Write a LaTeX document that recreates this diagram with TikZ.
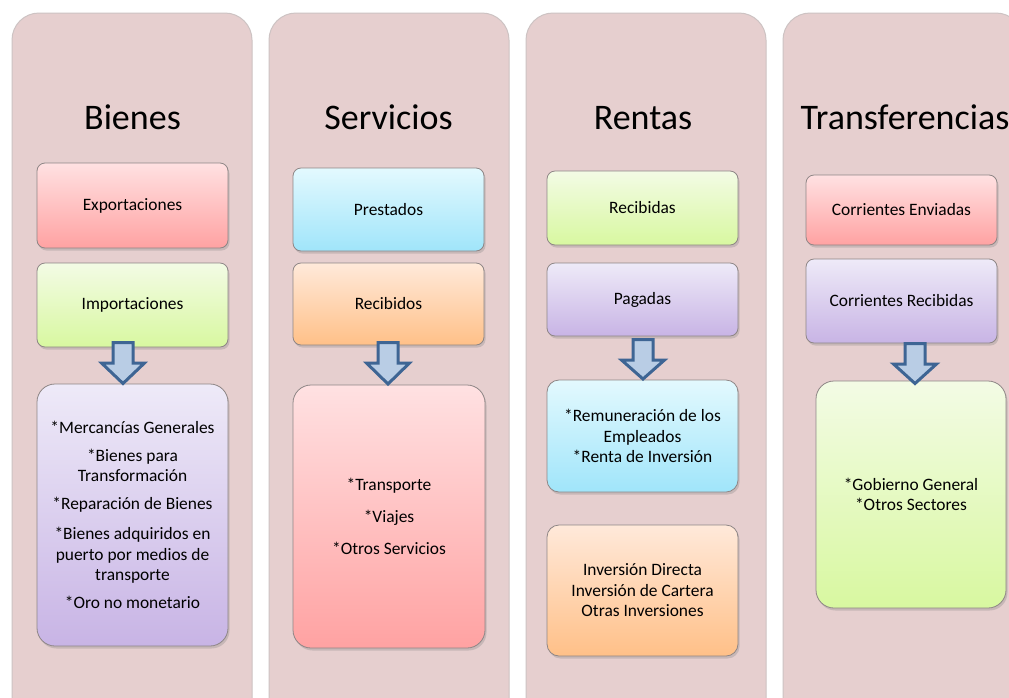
\documentclass[tikz,border=0pt]{standalone}
\usepackage{fontspec}
\setmainfont{Carlito}
\usetikzlibrary{shadows,calc}
\definecolor{colbg}{HTML}{E6CFCF}
\definecolor{colln}{HTML}{CDC3C3}
\definecolor{boxln}{HTML}{8E8686}
\definecolor{pinkT}{HTML}{FFE1E2}\definecolor{pinkB}{HTML}{FFA2A2}
\definecolor{greenT}{HTML}{F3FBE5}\definecolor{greenB}{HTML}{D8F8A0}
\definecolor{purpT}{HTML}{EEEAF8}\definecolor{purpB}{HTML}{C8B4E5}
\definecolor{blueT}{HTML}{E3F9FE}\definecolor{blueB}{HTML}{A0E5FA}
\definecolor{oranT}{HTML}{FFE9DA}\definecolor{oranB}{HTML}{FFC088}
\definecolor{arrln}{HTML}{3E6594}
\definecolor{arrfl}{HTML}{B9CDE5}
\tikzset{
  column/.style={fill=colbg, draw=colln, line width=1pt, rounded corners=27pt},
  box/.style={draw=boxln, line width=0.8pt, inner sep=0pt, align=center,
    font=\fontsize{17.4}{20.5}\selectfont,
    drop shadow={shadow xshift=1.5pt, shadow yshift=-2.5pt, opacity=0.3}},
  smallbox/.style={box, rounded corners=8pt},
  bigbox/.style={box, rounded corners=18pt},
  dims/.style 2 args={minimum width=#1pt, minimum height=#2pt},
  pinkg/.style={top color=pinkT, bottom color=pinkB},
  greeng/.style={top color=greenT, bottom color=greenB},
  purpg/.style={top color=purpT, bottom color=purpB},
  blueg/.style={top color=blueT, bottom color=blueB},
  orang/.style={top color=oranT, bottom color=oranB},
  title/.style={anchor=base, font=\fontsize{36}{40}\selectfont, inner sep=0pt},
  barrow/.style={draw=arrln, fill=arrfl, line width=3pt, line join=miter}
}
\newcommand\blkarrow[2]{%
  \draw[barrow] ($(#1)+(-10,0)$) -- ($(#1)+(10,0)$) -- ($(#1)+(10,20.5)$)
    -- ($(#1)+(21.5,20.5)$) -- (#2) -- ($(#1)+(-21.5,20.5)$)
    -- ($(#1)+(-10,20.5)$) -- cycle;}
\begin{document}
\begin{tikzpicture}[x=1pt,y=-1pt]
\useasboundingbox (0,0) rectangle (1009,697);
\fill[white] (0,0) rectangle (1009,697);
% columns
\draw[column] (12,13) rectangle (252,730);
\draw[column] (269,13) rectangle (509,730);
\draw[column] (526,13) rectangle (766,730);
\draw[column] (783,13) rectangle (1023,730);
% titles
\node[title] (t1) at (132.5,129) {Bienes};
\node[title] (t2) at (388.5,129) {Servicios};
\node[title] (t3) at (643,129) {Rentas};
\node[title] (t4) at (905,129) {Transferencias};
% column 1
\node[smallbox, pinkg, dims={191}{85}] (exp) at (132.5,205.5) {Exportaciones};
\node[smallbox, greeng, dims={191}{84}] (imp) at (132.5,305) {Importaciones};
\node[bigbox, purpg, dims={191}{262}] (b1) at (132.5,515) {{*}Mercancías Generales\\[7.5pt]{*}Bienes para\\Transformación\\[7.5pt]{*}Reparación de Bienes\\[9.5pt]{*}Bienes adquiridos en\\puerto por medios de\\transporte\\[7.5pt]{*}Oro no monetario};
% column 2
\node[smallbox, blueg, dims={191}{83}] (pre) at (388.5,209.5) {Prestados};
\node[smallbox, orang, dims={191}{82}] (rec) at (388.5,304) {Recibidos};
\node[bigbox, pinkg, dims={192}{263}] (b2) at (389,516.5) {{*}Transporte\\[11.5pt]{*}Viajes\\[11.5pt]{*}Otros Servicios};
% column 3
\node[smallbox, greeng, dims={191}{74}] (rda) at (642.5,208) {Recibidas};
\node[smallbox, purpg, dims={191}{73}] (pag) at (642.5,299.5) {Pagadas};
\node[box, rounded corners=12pt, blueg, dims={191}{112}] (rem) at (642.5,436) {{*}Remuneración de los\\Empleados\\{*}Renta de Inversión};
\node[box, rounded corners=12pt, orang, dims={191}{131}] (inv) at (642.5,590.5) {Inversión Directa\\Inversión de Cartera\\Otras Inversiones};
% column 4
\node[smallbox, pinkg, dims={191}{70}] (env) at (901.5,210) {Corrientes Enviadas};
\node[smallbox, purpg, dims={191}{84}] (crec) at (901.5,301) {Corrientes Recibidas};
\node[bigbox, greeng, dims={190}{227}] (b4) at (911,494.5) {{*}Gobierno General\\{*}Otros Sectores};
% arrows
\coordinate (a1s) at (123,342.5); \coordinate (a1t) at (123,383.5);
\coordinate (a2s) at (388,342.5); \coordinate (a2t) at (388,384);
\coordinate (a3s) at (643,339.5); \coordinate (a3t) at (643,379);
\coordinate (a4s) at (915,343.5); \coordinate (a4t) at (915,383.5);
\blkarrow{a1s}{a1t}
\blkarrow{a2s}{a2t}
\blkarrow{a3s}{a3t}
\blkarrow{a4s}{a4t}
\end{tikzpicture}
\end{document}
